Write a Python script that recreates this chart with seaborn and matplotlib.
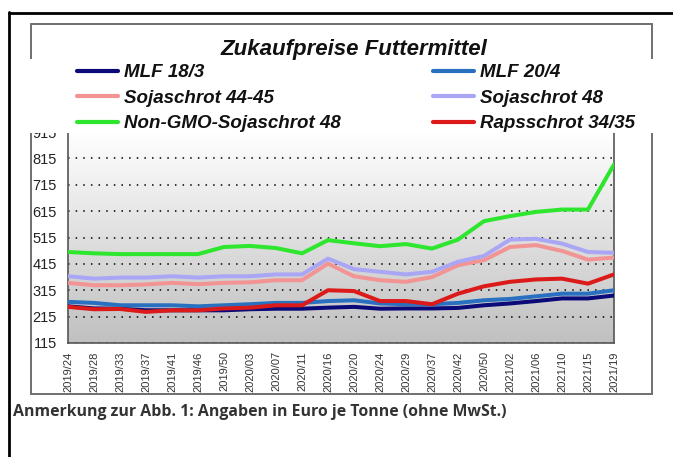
import numpy as np
import pandas as pd
import matplotlib
matplotlib.use('Agg')
import matplotlib.pyplot as plt
import seaborn as sns
from matplotlib.patches import Rectangle
from matplotlib.lines import Line2D
from matplotlib.colors import LinearSegmentedColormap
from matplotlib.font_manager import FontProperties

# --- Daten (Euro je Tonne) ---
wochen = ['2019/24', '2019/28', '2019/33', '2019/37', '2019/41', '2019/46',
          '2019/50', '2020/03', '2020/07', '2020/11', '2020/16', '2020/20',
          '2020/24', '2020/29', '2020/37', '2020/42', '2020/50', '2021/02',
          '2021/06', '2021/10', '2021/15', '2021/19']

mlf_18_3 = [254, 246, 245, 239, 239, 239, 239, 243, 245, 245, 249, 252,
            245, 246, 246, 248, 258, 265, 274, 284, 284, 295]
mlf_20_4 = [271, 267, 258, 258, 258, 254, 258, 262, 267, 267, 274, 277,
            265, 262, 262, 267, 277, 282, 292, 302, 302, 315]
soja_44_45 = [343, 334, 334, 337, 343, 338, 343, 345, 353, 353, 416, 368,
              353, 347, 365, 410, 429, 479, 486, 464, 431, 439]
soja_48 = [368, 359, 363, 363, 368, 363, 368, 368, 375, 375, 435, 395,
           385, 375, 385, 423, 445, 507, 510, 492, 460, 457]
non_gmo_48 = [460, 455, 452, 452, 452, 452, 479, 483, 475, 455, 505, 493,
              482, 490, 473, 507, 577, 596, 612, 621, 621, 792]
raps_34_35 = [252, 243, 244, 233, 239, 239, 246, 249, 258, 258, 315, 312,
              274, 274, 262, 302, 330, 347, 356, 359, 340, 375]

namen = ['MLF 18/3', 'MLF 20/4', 'Sojaschrot 44-45', 'Sojaschrot 48',
         'Non-GMO-Sojaschrot 48', 'Rapsschrot 34/35']
reihen = [mlf_18_3, mlf_20_4, soja_44_45, soja_48, non_gmo_48, raps_34_35]
farben = ['#0a0a78', '#2a70c0', '#f39494', '#aaa6f6', '#2ee62e', '#dc1a1a']

teile = []
for name, werte in zip(namen, reihen):
    teile.append(pd.DataFrame({'pos': range(len(wochen)), 'Woche': wochen,
                               'Preis': werte, 'Futtermittel': name}))
df = pd.concat(teile, ignore_index=True)

# --- Grafik ---
sns.set_theme(style='white')
plt.rcParams['font.family'] = ['Liberation Sans', 'DejaVu Sans']

W, H = 673, 457
fig = plt.figure(figsize=(W / 100, H / 100), dpi=100)


def fx(px):
    return px / W


def fy(py):
    return 1 - py / H


ax = fig.add_axes([fx(68), fy(343), fx(614) - fx(68), fy(132) - fy(343)])

# Verlauf im Hintergrund (oben weiss, unten grau)
cmap = LinearSegmentedColormap.from_list('verlauf', ['#ffffff', '#c0c0c0'])
ax.imshow(np.linspace(0, 1, 256).reshape(-1, 1), extent=[0, 21, 115, 915],
          aspect='auto', cmap=cmap, origin='upper', zorder=0)

sns.lineplot(data=df, x='pos', y='Preis', hue='Futtermittel', hue_order=namen,
             palette=farben, linewidth=2.9, legend=False, ax=ax, zorder=3)

ax.set_xlim(0, 21)
ax.set_ylim(115, 915)
ax.set_yticks(range(115, 916, 100))
ax.set_xticks(range(len(wochen)))
ax.set_xticklabels(wochen, rotation=90, fontsize=8, color='#333333')
for lab in ax.get_yticklabels():
    lab.set_fontsize(10.5)
    lab.set_color('#222222')
ax.set_xlabel('')
ax.set_ylabel('')
ax.grid(axis='y', color='black', linestyle=(0, (1, 4)), linewidth=1.1, zorder=1)
ax.tick_params(direction='inout', length=6, width=1, color='#444444', pad=3)
ax.tick_params(axis='y', pad=5)
for sp in ax.spines.values():
    sp.set_color('#555555')
    sp.set_linewidth(1.2)

# Rahmen um die Grafik
fig.patches.append(Rectangle((fx(31), fy(394)), fx(652) - fx(31), fy(24) - fy(394),
                             transform=fig.transFigure, fill=False,
                             edgecolor='#6f6f6f', linewidth=1.4, zorder=1))
# weisser Legendenbereich ueberdeckt Rahmen und Achsenoberkante
fig.patches.append(Rectangle((fx(20), fy(133)), fx(665) - fx(20), fy(59) - fy(133),
                             transform=fig.transFigure, facecolor='white',
                             edgecolor='none', zorder=4))

# schwarzer Seitenrand
fig.add_artist(Line2D([fx(9), fx(9)], [fy(12), 0], color='black', linewidth=2))
fig.add_artist(Line2D([fx(9), 1], [fy(13), fy(13)], color='black', linewidth=2))

fig.text(fx(354), fy(49), 'Zukaufpreise Futtermittel', ha='center', va='center',
         fontsize=16, fontweight='bold', fontstyle='italic', color='#111111', zorder=6)

prop = FontProperties(family=['Liberation Sans', 'DejaVu Sans'],
                      weight='bold', style='italic', size=13.5)
linien = ax.lines[:6]
for spalte, x0 in [(0, 77), (1, 433)]:
    idx = [spalte, spalte + 2, spalte + 4]
    leg = fig.legend([linien[i] for i in idx], [namen[i] for i in idx],
                     loc='upper left', bbox_to_anchor=(fx(x0), fy(64)),
                     frameon=False, prop=prop, handlelength=2.2,
                     handletextpad=0.3, labelspacing=0.45, borderpad=0,
                     borderaxespad=0)
    for h in leg.legend_handles:
        h.set_linewidth(3)
    for t in leg.get_texts():
        t.set_color('#111111')
    leg.set_zorder(6)

fig.text(fx(13), fy(412), 'Anmerkung zur Abb. 1: Angaben in Euro je Tonne (ohne MwSt.)',
         ha='left', va='center', fontsize=11.4, fontweight='bold',
         family='Open Sans', color='#333333')

fig.savefig('out.png', dpi=100)
